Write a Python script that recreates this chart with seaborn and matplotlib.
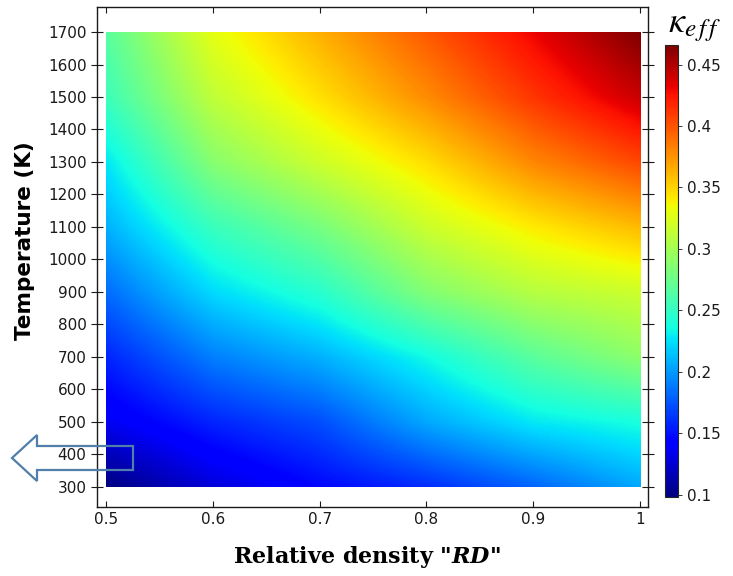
"""Effective conductivity map over relative density and temperature."""
import numpy as np
import matplotlib
matplotlib.use("Agg")
import matplotlib.pyplot as plt
from matplotlib.patches import Polygon, Rectangle
from matplotlib.ticker import FuncFormatter
import seaborn as sns

# values
rel_density = [0.5, 0.6, 0.7, 0.8, 0.9, 1.0]
temperature = [300, 500, 700, 900, 1100, 1300, 1500, 1700]
kappa_rd050 = [0.098, 0.135, 0.157, 0.183, 0.208, 0.227, 0.253, 0.266]
kappa_rd060 = [0.127, 0.157, 0.190, 0.223, 0.252, 0.287, 0.312, 0.329]
kappa_rd070 = [0.146, 0.172, 0.208, 0.245, 0.280, 0.318, 0.345, 0.364]
kappa_rd080 = [0.160, 0.205, 0.235, 0.285, 0.317, 0.346, 0.378, 0.398]
kappa_rd090 = [0.180, 0.228, 0.267, 0.308, 0.341, 0.380, 0.412, 0.431]
kappa_rd100 = [0.205, 0.238, 0.290, 0.318, 0.360, 0.405, 0.442, 0.466]
kappa_columns = [kappa_rd050, kappa_rd060, kappa_rd070,
                 kappa_rd080, kappa_rd090, kappa_rd100]
cbar_ticks = [0.1, 0.15, 0.2, 0.25, 0.3, 0.35, 0.4, 0.45]

W, H = 733, 576


def fig_xy(px, py):
    return px / W, 1 - py / H


sns.set_theme(style="ticks")
plt.rcParams["font.family"] = ["DejaVu Sans"]
plt.rcParams["mathtext.fontset"] = "dejavuserif"

fig = plt.figure(figsize=(W / 100, H / 100), dpi=100)
ax = fig.add_axes([97 / W, 1 - 507 / H, (648 - 97) / W, 500 / H])
cax = fig.add_axes([665 / W, 1 - 497 / H, 13 / W, 452 / H])

kappa = np.array(kappa_columns).T
dx = (rel_density[1] - rel_density[0]) / 2
dy = (temperature[1] - temperature[0]) / 2
img = ax.imshow(kappa, origin="lower", aspect="auto", cmap="jet",
                vmin=0.098, vmax=0.466, interpolation="bilinear",
                interpolation_stage="data",
                extent=[rel_density[0] - dx, rel_density[-1] + dx,
                        temperature[0] - dy, temperature[-1] + dy])
img.set_clip_path(Rectangle((rel_density[0], temperature[0]),
                            rel_density[-1] - rel_density[0],
                            temperature[-1] - temperature[0],
                            transform=ax.transData))

ax.set_xlim(0.4916, 1.0075)
ax.set_ylim(238, 1777)
ax.set_xticks(rel_density)
ax.set_yticks(range(300, 1701, 100))
ax.xaxis.set_major_formatter(FuncFormatter(lambda v, p: f"{v:g}"))
ax.tick_params(axis="both", labelsize=11, colors="#1a1a1a", length=4, width=0.8,
               top=True, right=True, direction="in")
ax.tick_params(axis="y", which="both", direction="inout", length=8)
for side in ax.spines.values():
    side.set_linewidth(1.0)
    side.set_color("#1a1a1a")

fig.text(25 / W, 1 - 241 / H, "Temperature (K)", rotation=90, ha="center",
         va="center", fontsize=15.5, fontweight="bold", color="black")
fig.text(367 / W, 1 - 557 / H, r'Relative density "$\mathbfit{RD}$"',
         ha="center", va="center", fontsize=16, fontweight="bold",
         family="DejaVu Serif", color="black")

cb = fig.colorbar(img, cax=cax, ticks=cbar_ticks)
cb.ax.yaxis.set_major_formatter(FuncFormatter(lambda v, p: f"{v:g}"))
cb.ax.tick_params(labelsize=11, length=3, width=0.6, colors="#1a1a1a")
cb.outline.set_linewidth(0.8)
fig.text(695 / W, 1 - 27 / H, r"$\kappa_{e\,f\,f}$", ha="center", va="center",
         fontsize=26, math_fontfamily="stix", color="black")

# hollow arrow marker on the left
arrow_px = [(12, 458), (37, 435), (37, 446), (133, 446),
            (133, 470), (37, 470), (37, 481)]
arrow = Polygon([fig_xy(x, y) for x, y in arrow_px], closed=True, fill=False,
                edgecolor="#4f7faa", linewidth=1.6, transform=fig.transFigure,
                zorder=5)
fig.add_artist(arrow)

fig.savefig("out.png", dpi=100)
